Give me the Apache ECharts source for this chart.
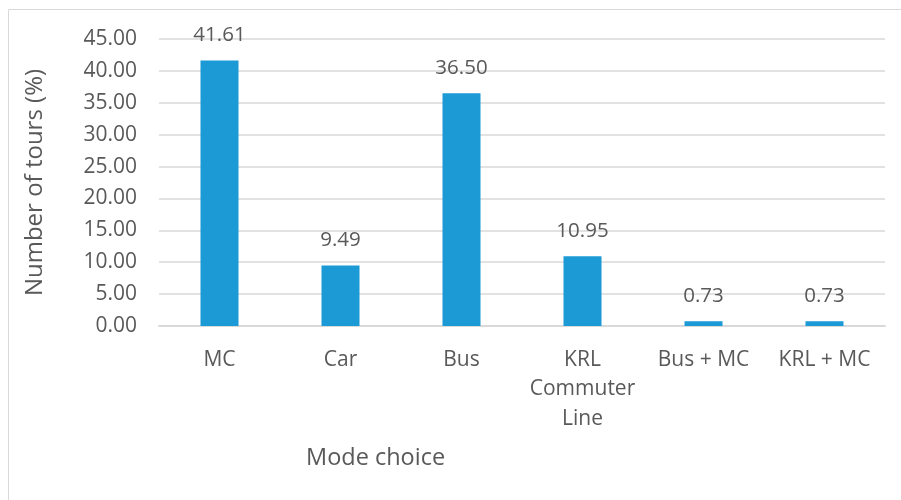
<!DOCTYPE html>
<html>
<head>
<meta charset="utf-8">
<script src="https://cdn.jsdelivr.net/npm/echarts@6/dist/echarts.min.js"></script>
<style>
  html, body { margin: 0; padding: 0; background: #fff; }
  #main { width: 901px; height: 500px; }
</style>
</head>
<body>
<div id="main"></div>
<script>
// mode choice categories and share of tours
const modes = ['MC', 'Car', 'Bus', 'KRL\nCommuter\nLine', 'Bus + MC', 'KRL + MC'];
const tours = [41.61, 9.49, 36.50, 10.95, 0.73, 0.73];

const textColor = '#595959';
const font = 'Open Sans';

const chart = echarts.init(document.getElementById('main'));
chart.setOption({
  animation: false,
  grid: { left: 159, right: 16, top: 39, bottom: 174 },
  graphic: [
    {
      type: 'rect',
      shape: { x: 8.5, y: 9.5, width: 1000, height: 1000 },
      style: { fill: 'none', stroke: '#d9d9d9', lineWidth: 1 },
      silent: true
    },
    {
      type: 'text',
      left: 306, top: 446,
      style: { text: 'Mode choice', fill: textColor, fontFamily: font, fontSize: 23.5 }
    }
  ],
  xAxis: {
    type: 'category',
    data: modes,
    axisLine: { lineStyle: { color: '#d9d9d9', width: 2 } },
    axisTick: { show: false },
    axisLabel: {
      interval: 0, color: textColor, fontFamily: font, fontSize: 21,
      margin: 19, lineHeight: 29.5
    }
  },
  yAxis: {
    type: 'value',
    min: 0, max: 45, interval: 5,
    name: 'Number of tours (%)',
    nameLocation: 'middle',
    nameGap: 112,
    nameTextStyle: { color: textColor, fontFamily: font, fontSize: 24 },
    axisLabel: {
      color: textColor, fontFamily: font, fontSize: 21, margin: 22,
      formatter: v => v.toFixed(2)
    },
    splitLine: { lineStyle: { color: '#d9d9d9', width: 1.5 } }
  },
  series: [{
    type: 'bar',
    data: tours,
    barWidth: 38,
    itemStyle: { color: '#1b9ad6' },
    label: {
      show: true, position: 'top', distance: 14.5,
      color: textColor, fontFamily: font, fontSize: 20.5,
      formatter: p => p.value.toFixed(2)
    }
  }]
});
</script>
</body>
</html>
